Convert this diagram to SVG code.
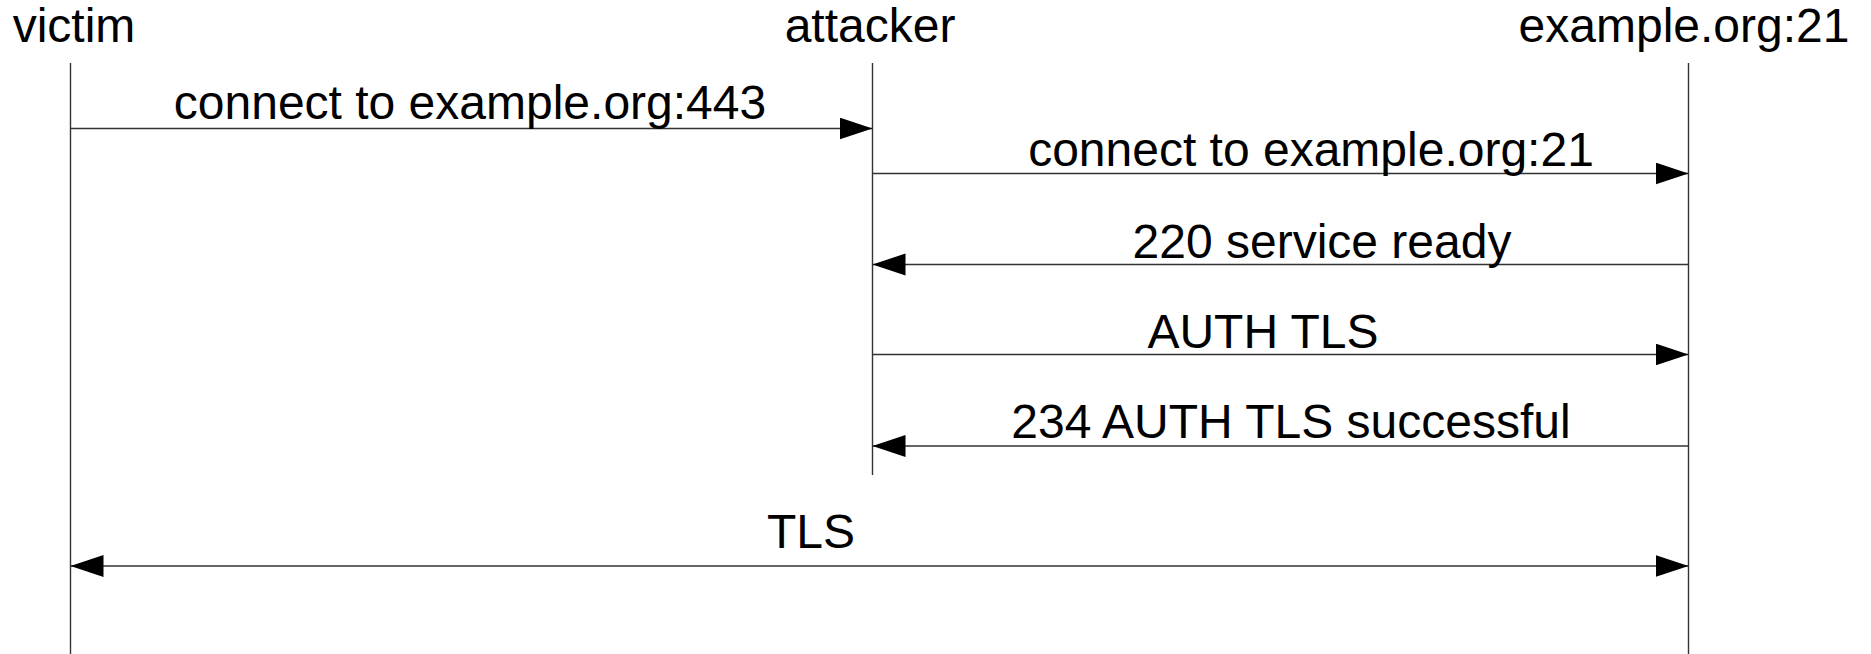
<svg xmlns="http://www.w3.org/2000/svg" width="1871" height="654" viewBox="0 0 1871 654">
<style>
text{font-family:"Liberation Sans",Arial,sans-serif;font-size:48px;fill:#000;text-anchor:middle}
.life{stroke:#333;stroke-width:1.4;fill:none}
.msg{stroke:#333;stroke-width:1.4;fill:none;marker-end:url(#ah)}
.both{marker-start:url(#ah)}
</style>
<defs>
<marker id="ah" markerUnits="userSpaceOnUse" markerWidth="34" markerHeight="24" refX="33" refY="11" orient="auto-start-reverse" viewBox="0 0 34 24">
<path d="M0,0 L33,11 L0,22 z" fill="#000"/>
</marker>
</defs>
<rect width="1871" height="654" fill="#fff"/>
<g id="victim">
<text x="74" y="42">victim</text>
<line class="life" x1="70.5" y1="63" x2="70.5" y2="654"/>
</g>
<g id="attacker">
<text x="870" y="42">attacker</text>
<line class="life" x1="872.5" y1="63" x2="872.5" y2="475"/>
</g>
<g id="server">
<text x="1684" y="42">example.org:21</text>
<line class="life" x1="1688.5" y1="63" x2="1688.5" y2="654"/>
</g>
<g id="connectors">
<line class="msg" x1="70.5" y1="128.5" x2="872.5" y2="128.5"/>
<text x="470" y="119">connect to example.org:443</text>
<line class="msg" x1="872.5" y1="173.5" x2="1688.5" y2="173.5"/>
<text x="1311" y="166">connect to example.org:21</text>
<line class="msg" x1="1688.5" y1="264.5" x2="872.5" y2="264.5"/>
<text x="1322" y="258">220 service ready</text>
<line class="msg" x1="872.5" y1="354.5" x2="1688.5" y2="354.5"/>
<text x="1263" y="348">AUTH TLS</text>
<line class="msg" x1="1688.5" y1="446" x2="872.5" y2="446"/>
<text x="1291" y="438">234 AUTH TLS successful</text>
<line class="msg both" x1="70.5" y1="566" x2="1688.5" y2="566"/>
<text x="811" y="548">TLS</text>
</g>
</svg>
